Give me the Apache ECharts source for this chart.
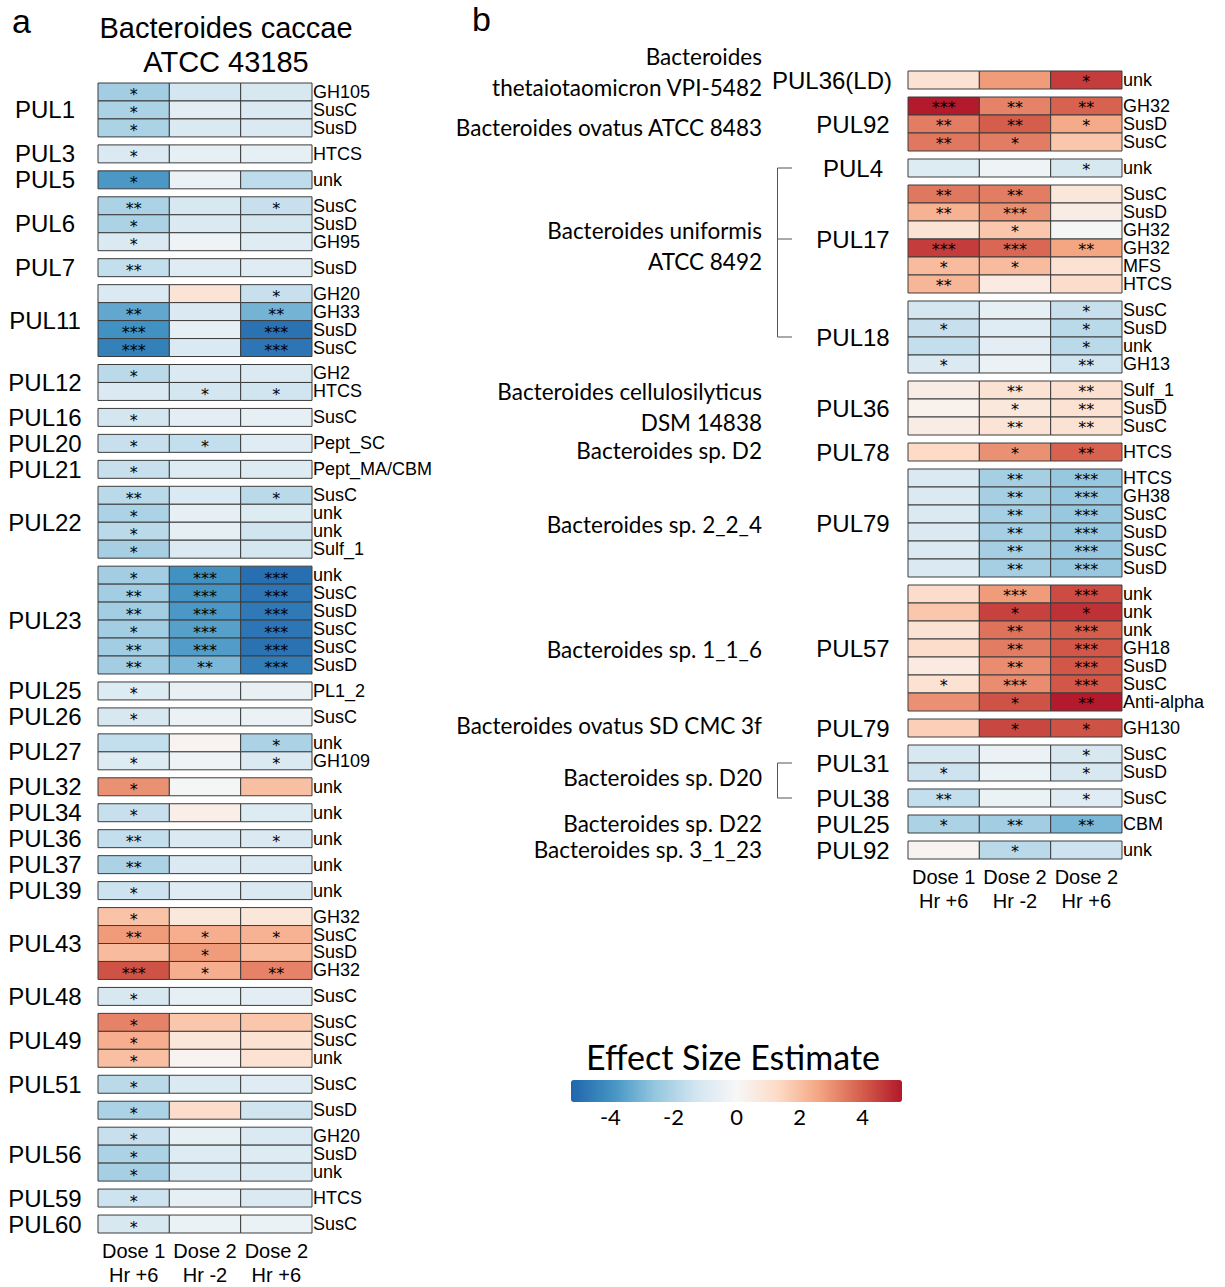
<!DOCTYPE html>
<html><head><meta charset="utf-8">
<script src="https://cdn.jsdelivr.net/npm/echarts@6/dist/echarts.min.js"></script>
<style>html,body{margin:0;padding:0;background:#fff}#c{width:1225px;height:1287px}</style>
</head><body><div id="c"></div>
<script>
// ---------------- DATA ----------------
const colLabels = ['Dose 1\nHr +6', 'Dose 2\nHr -2', 'Dose 2\nHr +6'];
const legendTicks = [-4, -2, 0, 2, 4];

// Panel a: Bacteroides caccae ATCC 43185
const pulA = ['PUL1','PUL3','PUL5','PUL6','PUL7','PUL11','PUL12','PUL16','PUL20','PUL21','PUL22','PUL23','PUL25','PUL26','PUL27','PUL32','PUL34','PUL36','PUL37','PUL39','PUL43','PUL48','PUL49','PUL51','','PUL56','PUL59','PUL60'];
const genesA = [
  ['GH105','SusC','SusD'],['HTCS'],['unk'],['SusC','SusD','GH95'],['SusD'],
  ['GH20','GH33','SusD','SusC'],['GH2','HTCS'],['SusC'],['Pept_SC'],['Pept_MA/CBM'],
  ['SusC','unk','unk','Sulf_1'],['unk','SusC','SusD','SusC','SusC','SusD'],['PL1_2'],['SusC'],
  ['unk','GH109'],['unk'],['unk'],['unk'],['unk'],['unk'],['GH32','SusC','SusD','GH32'],
  ['SusC'],['SusC','SusC','unk'],['SusC'],['SusD'],['GH20','SusD','unk'],['HTCS'],['SusC']
];
const effectA = [
  [-2.3,-1.2,-1.1],[-2.1,-0.7,-1.0],[-2.1,-1.0,-1.0],
  [-1.0,-0.6,-0.6],
  [-3.8,-0.4,-1.7],
  [-2.1,-1.1,-1.5],[-2.1,-1.0,-1.2],[-1.0,-0.3,-0.8],
  [-1.6,-0.8,-0.8],
  [-1.0,0.9,-1.5],[-3.4,-1.0,-3.1],[-4.0,-0.6,-4.9],[-4.5,-1.0,-4.8],
  [-1.8,-1.0,-1.0],[-1.0,-1.2,-1.3],
  [-1.2,-0.7,-0.6],
  [-1.5,-1.6,-0.8],
  [-1.5,-0.9,-0.9],
  [-1.8,-1.0,-1.8],[-2.1,-0.6,-0.9],[-1.8,-0.6,-1.3],[-2.2,-1.0,-1.2],
  [-2.3,-4.0,-5.0],[-2.3,-3.9,-4.8],[-2.3,-3.8,-4.7],[-2.3,-3.6,-4.8],[-2.3,-3.7,-4.9],[-2.3,-3.0,-4.6],
  [-0.9,-0.5,-0.5],
  [-1.1,-0.4,-0.4],
  [-1.6,0.2,-2.1],[-0.9,-0.3,-1.0],
  [3.0,-0.1,2.0],
  [-1.5,0.4,-0.9],
  [-1.6,-1.0,-1.0],
  [-2.1,-1.0,-1.0],
  [-1.4,-0.8,-1.0],
  [1.9,0.7,0.8],[2.8,2.4,2.3],[2.1,2.8,2.1],[4.2,2.4,3.3],
  [-1.1,-0.6,-0.7],
  [3.3,1.8,1.8],[2.4,0.8,1.0],[2.0,0.2,1.0],
  [-1.8,-1.0,-0.8],
  [-2.1,1.2,-1.3],
  [-1.5,-0.6,-1.0],[-2.1,-0.9,-0.9],[-2.2,-1.0,-1.0],
  [-1.4,-0.6,-1.0],
  [-1.1,-0.4,-0.4]
];
const starsA = [
  ['*','',''],['*','',''],['*','',''],
  ['*','',''],
  ['*','',''],
  ['**','','*'],['*','',''],['*','',''],
  ['**','',''],
  ['','','*'],['**','','**'],['***','','***'],['***','','***'],
  ['*','',''],['','*','*'],
  ['*','',''],
  ['*','*',''],
  ['*','',''],
  ['**','','*'],['*','',''],['*','',''],['*','',''],
  ['*','***','***'],['**','***','***'],['**','***','***'],['*','***','***'],['**','***','***'],['**','**','***'],
  ['*','',''],
  ['*','',''],
  ['','','*'],['*','','*'],
  ['*','',''],
  ['*','',''],
  ['**','','*'],
  ['**','',''],
  ['*','',''],
  ['*','',''],['**','*','*'],['','*',''],['***','*','**'],
  ['*','',''],
  ['*','',''],['*','',''],['*','',''],
  ['*','',''],
  ['*','',''],
  ['*','',''],['*','',''],['*','',''],
  ['*','',''],
  ['*','','']
];

// Panel b
const pulB = ['PUL36(LD)','PUL92','PUL4','PUL17','PUL18','PUL36','PUL78','PUL79','PUL57','PUL79','PUL31','PUL38','PUL25','PUL92'];
const genesB = [
  ['unk'],['GH32','SusD','SusC'],['unk'],['SusC','SusD','GH32','GH32','MFS','HTCS'],
  ['SusC','SusD','unk','GH13'],['Sulf_1','SusD','SusC'],['HTCS'],
  ['HTCS','GH38','SusC','SusD','SusC','SusD'],
  ['unk','unk','unk','GH18','SusD','SusC','Anti-alpha'],['GH130'],['SusC','SusD'],['SusC'],['CBM'],['unk']
];
const effectB = [
  [1.0,2.8,4.6],
  [5.2,3.3,3.9],[3.4,4.0,2.5],[3.5,3.4,1.8],
  [-0.9,-0.3,-1.1],
  [3.5,3.4,0.8],[2.3,3.0,0.5],[1.0,1.8,-0.1],[4.6,3.8,2.6],[2.1,2.1,1.0],[2.2,0.6,1.2],
  [-1.2,-0.6,-1.5],[-1.5,-0.8,-1.8],[-1.6,-0.7,-1.8],[-1.0,-0.4,-1.3],
  [0.5,1.0,1.1],[0.3,0.7,1.0],[0.5,0.9,1.0],
  [1.3,3.0,3.9],
  [-1.0,-2.2,-2.5],[-1.0,-2.2,-2.5],[-1.0,-2.2,-2.5],[-1.0,-2.2,-2.5],[-1.0,-2.2,-2.5],[-1.0,-2.2,-2.5],
  [1.2,2.8,4.3],[1.8,4.5,4.8],[1.0,3.6,4.0],[1.2,3.4,4.1],[0.6,3.1,4.1],[1.0,3.1,4.1],[3.0,4.2,5.2],
  [1.6,4.4,4.2],
  [-1.1,-0.4,-1.1],[-1.4,-0.4,-1.1],
  [-1.6,-0.4,-0.8],
  [-2.1,-2.3,-3.0],
  [0.2,-1.8,-1.4]
];
const starsB = [
  ['','','*'],
  ['***','**','**'],['**','**','*'],['**','*',''],
  ['','','*'],
  ['**','**',''],['**','***',''],['','*',''],['***','***','**'],['*','*',''],['**','',''],
  ['','','*'],['*','','*'],['','','*'],['*','','**'],
  ['','**','**'],['','*','**'],['','**','**'],
  ['','*','**'],
  ['','**','***'],['','**','***'],['','**','***'],['','**','***'],['','**','***'],['','**','***'],
  ['','***','***'],['','*','*'],['','**','***'],['','**','***'],['','**','***'],['*','***','***'],['','*','**'],
  ['','*','*'],
  ['','','*'],['*','','*'],
  ['**','','*'],
  ['*','**','**'],
  ['','*','']
];
const speciesB = ['Bacteroides\nthetaiotaomicron VPI-5482','Bacteroides ovatus ATCC 8483','Bacteroides uniformis\nATCC 8492','Bacteroides cellulosilyticus\nDSM 14838','Bacteroides sp. D2','Bacteroides sp. 2_2_4','Bacteroides sp. 1_1_6','Bacteroides ovatus SD CMC 3f','Bacteroides sp. D20','Bacteroides sp. D22','Bacteroides sp. 3_1_23'];
const speciesGroupsB = [[0],[1],[2,3,4],[5],[6],[7],[8],[9],[10,11],[12],[13]];

// ---------------- LAYOUT / STYLE ----------------
const ROW = 18, GAP = 8;
const speciesDy = [-8, 3, -7, -1, -2, 1, 1, -3, -3, -1, -1];
const RdBu = ['#2166ac','#4393c3','#92c5de','#d1e5f0','#f7f7f7','#fddbc7','#f4a582','#d6604d','#b2182b'];
const ARIAL = "'Liberation Sans', Arial, sans-serif";
const STARF = "'DejaVu Sans', sans-serif";
const CAL = "Lato, 'Open Sans', sans-serif";

function build(genes, effect, stars) {
  const cells = [], meta = [], mids = [];
  let y = 0, r = 0;
  genes.forEach((g, gi) => {
    if (gi > 0) y += GAP;
    const top = y;
    g.forEach(name => {
      for (let c = 0; c < 3; c++) {
        cells.push([c, y, effect[r][c]]);
        meta.push({ stars: stars[r][c], gene: c === 2 ? name : '' });
      }
      y += ROW; r++;
    });
    mids.push((top + y) / 2);
  });
  return { cells, meta, mids, total: y };
}
const A = build(genesA, effectA, starsA);
const B = build(genesB, effectB, starsB);

function cellRender(meta, starDy) {
  return function (params, api) {
    const c = api.value(0), yTop = api.value(1);
    const p = api.coord([c, yTop]);
    const w = api.size([1, ROW])[0];
    const h = Math.abs(api.coord([c, yTop + ROW])[1] - p[1]);
    const x0 = p[0] - w / 2, y0 = p[1];
    const m = meta[params.dataIndex];
    const ch = [{ type: 'rect', shape: { x: x0, y: y0, width: w, height: h },
      style: { fill: api.visual('color'), stroke: '#3c3c3c', lineWidth: 1 } }];
    if (m.stars) ch.push({ type: 'text', style: { text: m.stars, x: p[0], y: y0 + h / 2 + starDy,
      align: 'center', verticalAlign: 'middle', font: '16px ' + STARF, lineHeight: 12, fill: '#000' } });
    if (m.gene) ch.push({ type: 'text', style: { text: m.gene, x: x0 + w + 1, y: y0 + h / 2,
      align: 'left', verticalAlign: 'middle', font: '18px ' + ARIAL, lineHeight: 16, fill: '#000' } });
    return { type: 'group', children: ch };
  };
}
function pulRender(labels, xc, rightEdge) {
  return function (params, api) {
    const p = api.coord([0, api.value(1)]);
    const t = labels[params.dataIndex];
    if (!t) return { type: 'group', children: [] };
    const long = t.length > 5;
    return { type: 'text', style: { text: t, x: long ? rightEdge : xc, y: p[1],
      align: long ? 'right' : 'center', verticalAlign: 'middle', font: '24px ' + ARIAL, lineHeight: 20, fill: '#000' } };
  };
}
function speciesRender(params, api) {
  const i = params.dataIndex;
  const p = api.coord([0, api.value(1)]);
  const ch = [{ type: 'text', style: { text: speciesB[i], x: 762, y: p[1] + speciesDy[i],
    align: 'right', verticalAlign: 'middle', font: '22.5px ' + CAL, lineHeight: 31, fill: '#000' } }];
  const gs = speciesGroupsB[i];
  if (gs.length > 1) {
    const ys = gs.map(g => api.coord([0, B.mids[g]])[1]);
    const X = 777.5, X2 = 792;
    ch.push({ type: 'line', shape: { x1: X, y1: ys[0], x2: X, y2: ys[ys.length - 1] }, style: { stroke: '#555', lineWidth: 1 } });
    ys.forEach(yy => ch.push({ type: 'line', shape: { x1: X, y1: yy, x2: X2, y2: yy }, style: { stroke: '#555', lineWidth: 1 } }));
  }
  return { type: 'group', children: ch };
}

const xAxisCommon = {
  type: 'category', data: colLabels,
  axisLine: { show: false }, axisTick: { show: false }, splitLine: { show: false },
  axisLabel: { interval: 0, fontFamily: 'Liberation Sans', fontSize: 20, lineHeight: 24, color: '#000', margin: 6 }
};

const option = {
  backgroundColor: '#fff',
  animation: false,
  grid: [
    { left: 98, top: 83, width: 214, height: A.total },
    { left: 908, top: 71, width: 214, height: B.total },
    { left: 571, top: 1100, width: 331, height: 2 }
  ],
  xAxis: [
    Object.assign({ gridIndex: 0 }, xAxisCommon),
    Object.assign({ gridIndex: 1 }, xAxisCommon),
    { gridIndex: 2, type: 'value', min: -5.25, max: 5.25,
      axisLine: { show: false }, axisTick: { show: false }, splitLine: { show: false },
      axisLabel: { customValues: legendTicks, fontFamily: 'Lato', fontSize: 22, color: '#000', margin: 3 } }
  ],
  yAxis: [
    { gridIndex: 0, type: 'value', min: 0, max: A.total, inverse: true, show: false },
    { gridIndex: 1, type: 'value', min: 0, max: B.total, inverse: true, show: false },
    { gridIndex: 2, type: 'value', show: false }
  ],
  visualMap: [{
    type: 'continuous', min: -5.25, max: 5.25, orient: 'horizontal',
    left: 571, top: 1080, itemWidth: 22, itemHeight: 331, padding: 0,
    calculable: false, hoverLink: false, seriesIndex: [0, 2], dimension: 2,
    inRange: { color: RdBu }
  }],
  graphic: [
    { type: 'text', left: 12, top: 4, style: { text: 'a', font: "34px 'Liberation Sans', sans-serif", fill: '#000' } },
    { type: 'text', left: 472, top: 2, style: { text: 'b', font: "34px 'Liberation Sans', sans-serif", fill: '#000' } },
    { type: 'text', x: 226, y: 45, style: { text: 'Bacteroides caccae\nATCC 43185', align: 'center', verticalAlign: 'middle',
      font: "29px 'Liberation Sans', sans-serif", lineHeight: 34, fill: '#000' } },
    { type: 'text', x: 733, y: 1056, style: { text: 'Effect Size Estimate', align: 'center', verticalAlign: 'middle',
      font: '34px ' + CAL, fill: '#000' } }
  ],
  series: [
    { type: 'custom', xAxisIndex: 0, yAxisIndex: 0, data: A.cells, renderItem: cellRender(A.meta, 3), silent: true },
    { type: 'custom', xAxisIndex: 0, yAxisIndex: 0, data: A.mids.map(m => [0, m]), renderItem: pulRender(pulA, 45, 82), silent: true },
    { type: 'custom', xAxisIndex: 1, yAxisIndex: 1, data: B.cells, renderItem: cellRender(B.meta, 1), silent: true },
    { type: 'custom', xAxisIndex: 1, yAxisIndex: 1, data: B.mids.map(m => [0, m]), renderItem: pulRender(pulB, 853, 892), silent: true },
    { type: 'custom', xAxisIndex: 1, yAxisIndex: 1,
      data: speciesGroupsB.map(gs => [0, (B.mids[gs[0]] + B.mids[gs[gs.length - 1]]) / 2]),
      renderItem: speciesRender, silent: true }
  ]
};
const chart = echarts.init(document.getElementById('c'), null, { renderer: 'svg' });
chart.setOption(option);
</script>
</body></html>
